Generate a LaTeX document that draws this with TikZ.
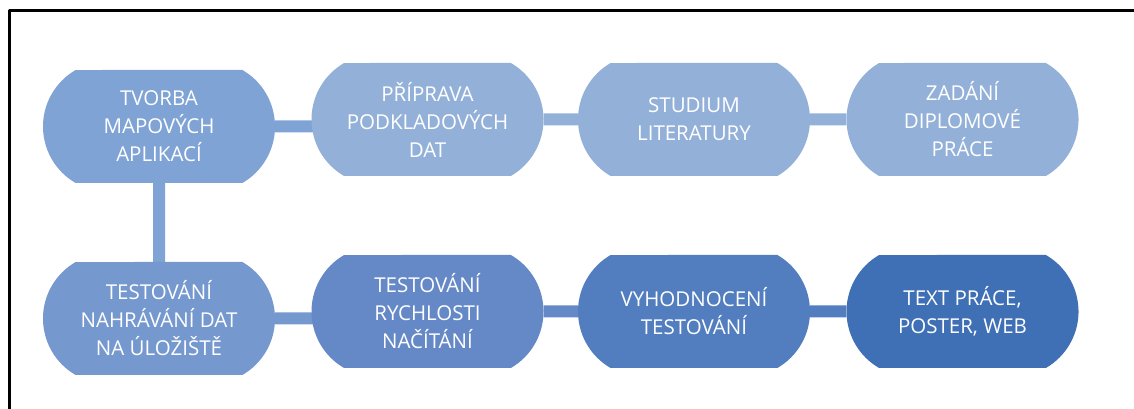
\documentclass[tikz,border=0pt]{standalone}
\usepackage[x11names, rgb]{xcolor}
\usepackage{fontspec}
\setmainfont{Open Sans}
\usepackage{tikz}
\usetikzlibrary{shapes,backgrounds}

\definecolor{modra1}{HTML}{7FA3D5}
\definecolor{modra2}{HTML}{93B1D8}
\definecolor{modra5}{HTML}{7598CE}
\definecolor{modra6}{HTML}{6589C7}
\definecolor{modra7}{HTML}{527EC0}
\definecolor{modra8}{HTML}{3F6FB5}

\begin{document}
\begin{tikzpicture}[join=bevel,]
\tikzstyle{krok}=[rounded rectangle,rounded rectangle arc length=120,minimum width=232bp,minimum height=113bp,inner sep=0pt,text=white,align=center,font=\fontsize{20.5bp}{28bp}\selectfont]%
\tikzstyle{spoj}=[line width=12bp]%
  \useasboundingbox (0bp,0bp) rectangle (1134bp,409bp);
  \draw [line width=3bp] (9bp,-5bp) |- (1140bp,398bp);

  \node (tvorba) at (159bp,282.5bp) [krok,fill=modra1] {TVORBA\\MAPOVÝCH\\APLIKACÍ};
  \node (priprava) at (427.5bp,289.5bp) [krok,fill=modra2] {PŘÍPRAVA\\PODKLADOVÝCH\\DAT};
  \node (studium) at (694bp,289.5bp) [krok,fill=modra2] {STUDIUM\\LITERATURY};
  \node (zadani) at (962.5bp,289.5bp) [krok,fill=modra2] {ZADÁNÍ\\DIPLOMOVÉ\\PRÁCE};
  \node (nahravani) at (159bp,90.5bp) [krok,fill=modra5] {TESTOVÁNÍ\\NAHRÁVÁNÍ DAT\\NA ÚLOŽIŠTĚ};
  \node (rychlost) at (427.5bp,97.5bp) [krok,fill=modra6] {TESTOVÁNÍ\\RYCHLOSTI\\NAČÍTÁNÍ};
  \node (vyhodnoceni) at (694bp,97.5bp) [krok,fill=modra7] {VYHODNOCENÍ\\TESTOVÁNÍ};
  \node (text) at (962.5bp,97.5bp) [krok,fill=modra8] {TEXT PRÁCE,\\POSTER, WEB};

  \begin{scope}[on background layer]
  \draw [spoj,modra1] (tvorba) -- (tvorba -| priprava);
  \draw [spoj,modra2] (priprava) -- (studium);
  \draw [spoj,modra2] (studium) -- (zadani);
  \draw [spoj,modra1] (tvorba) -- (nahravani);
  \draw [spoj,modra5] (nahravani) -- (nahravani -| rychlost);
  \draw [spoj,modra6] (rychlost) -- (vyhodnoceni);
  \draw [spoj,modra7] (vyhodnoceni) -- (text);
  \end{scope}

\end{tikzpicture}
\end{document}
